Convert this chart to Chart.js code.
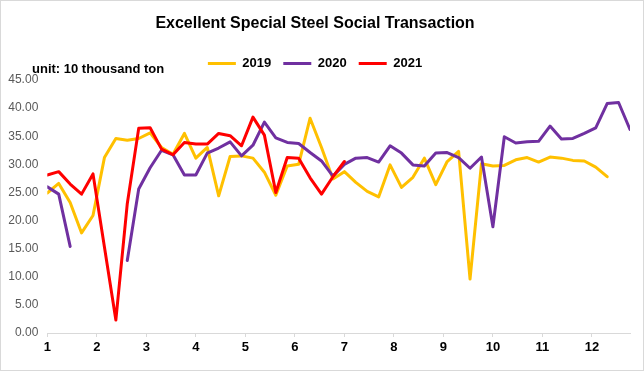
<!DOCTYPE html>
<html>
<head>
<meta charset="utf-8">
<script src="https://cdn.jsdelivr.net/npm/chart.js@4/dist/chart.umd.min.js"></script>
<style>
  html, body { margin: 0; padding: 0; background: #fff; }
  #wrap { position: relative; width: 644px; height: 371px; }
  #frame { position: absolute; left: 0; top: 0; width: 644px; height: 371px; box-sizing: border-box; border: 1px solid #d9d9d9; pointer-events: none; }
</style>
</head>
<body>
<div id="wrap">
  <canvas id="chart" width="644" height="371"></canvas>
  <div id="frame"></div>
</div>
<script>
// weekly points, months on the axis
const weeks = [1, 2, 3, 4, 5, 6, 7, 8, 9, 10, 11, 12, 13, 14, 15, 16, 17, 18, 19, 20,
  21, 22, 23, 24, 25, 26, 27, 28, 29, 30, 31, 32, 33, 34, 35, 36, 37, 38, 39, 40,
  41, 42, 43, 44, 45, 46, 47, 48, 49, 50, 51, 52];
const months = ['1', '2', '3', '4', '5', '6', '7', '8', '9', '10', '11', '12'];
const yTicks = [0, 5, 10, 15, 20, 25, 30, 35, 40, 45];

const y2019 = [24.9, 26.6, 23.2, 17.8, 20.9, 31.2, 34.6, 34.3, 34.6, 35.6,
  33.0, 31.8, 35.5, 31.1, 33.0, 24.4, 31.4, 31.5, 31.1, 28.6,
  24.5, 29.7, 30.0, 38.2, 33.0, 27.4, 28.7, 26.8, 25.2, 24.2,
  29.9, 25.9, 27.7, 31.1, 26.4, 30.5, 32.3, 9.6, 30.1, 29.7,
  29.8, 30.8, 31.2, 30.4, 31.3, 31.1, 30.7, 30.6, 29.5, 27.8];
const y2020 = [26.0, 24.7, 15.4, null, null, null, null, 12.9, 25.6, 29.4,
  32.5, 31.7, 28.1, 28.1, 32.0, 32.9, 34.0, 31.5, 33.4, 37.5,
  34.7, 33.9, 33.7, 32.1, 30.6, 27.9, 30.0, 31.1, 31.2, 30.4,
  33.3, 32.0, 29.9, 29.7, 32.0, 32.1, 31.2, 29.3, 31.3, 18.9,
  34.9, 33.8, 34.0, 34.1, 36.8, 34.5, 34.6, 35.5, 36.5, 40.8,
  41.0, 36.2];
const y2021 = [28.1, 28.7, 26.5, 24.7, 28.3, 15.3, 2.3, 23.0, 36.4, 36.5,
  32.7, 31.7, 33.9, 33.6, 33.6, 35.5, 35.1, 33.3, 38.4, 35.2,
  25.0, 31.2, 31.1, 27.6, 24.7, 27.8, 30.5];

const FONT = "'Liberation Sans', Arial, sans-serif";

const unitLabel = {
  id: 'unitLabel',
  afterDraw(chart) {
    const ctx = chart.ctx;
    ctx.save();
    ctx.font = 'bold 13px ' + FONT;
    ctx.fillStyle = '#000';
    ctx.textBaseline = 'middle';
    ctx.fillText('unit: 10 thousand ton', 32, 69);
    ctx.restore();
  }
};

function line(label, data, color, order) {
  return {
    label, data, order,
    borderColor: color,
    backgroundColor: color,
    borderWidth: 3,
    pointRadius: 0,
    tension: 0,
    borderJoinStyle: 'round',
    borderCapStyle: 'round',
    spanGaps: false
  };
}

new Chart(document.getElementById('chart'), {
  type: 'line',
  data: {
    labels: weeks,
    datasets: [
      line('2019', y2019, '#FFC000', 3),
      line('2020', y2020, '#7030A0', 2),
      line('2021', y2021, '#FF0000', 1)
    ]
  },
  options: {
    responsive: false,
    animation: false,
    layout: { padding: { left: 0, right: 14, top: 0, bottom: 0 } },
    plugins: {
      title: {
        display: true,
        text: 'Excellent Special Steel Social Transaction',
        color: '#000',
        font: { family: FONT, size: 16, weight: 'bold' },
        padding: { top: 14.4, bottom: 11.4 }
      },
      legend: {
        display: true,
        labels: {
          color: '#000',
          font: { family: FONT, size: 13, weight: 'bold' },
          boxWidth: 28,
          boxHeight: 3,
          padding: 12,
          sort: (a, b) => a.datasetIndex - b.datasetIndex,
          generateLabels(chart) {
            const items = Chart.defaults.plugins.legend.labels.generateLabels(chart);
            items.forEach(it => { it.lineWidth = 0; it.strokeStyle = it.fillStyle; });
            return items;
          }
        }
      },
      tooltip: { enabled: false }
    },
    scales: {
      x: {
        type: 'linear',
        min: weeks[0],
        max: weeks[weeks.length - 1],
        afterBuildTicks(scale) {
          scale.ticks = months.map((m, i) => ({ value: weeks[0] + i * weeks.length / months.length }));
        },
        afterFit(scale) { scale.height = 38; },
        grid: { display: true, drawOnChartArea: false, drawTicks: true, tickLength: 4, color: '#d9d9d9' },
        border: { display: true, color: '#d9d9d9', width: 1 },
        ticks: {
          autoSkip: false,
          maxRotation: 0,
          padding: 3,
          color: '#000',
          font: { family: FONT, size: 13, weight: 'bold' },
          callback: (v, i) => months[i]
        }
      },
      y: {
        min: yTicks[0],
        max: yTicks[yTicks.length - 1],
        afterBuildTicks(scale) {
          scale.ticks = yTicks.map(v => ({ value: v }));
        },
        afterFit(scale) { scale.width = 47.3; },
        grid: { display: false, drawTicks: false },
        border: { display: false },
        ticks: {
          padding: 9,
          color: '#595959',
          font: { family: FONT, size: 12 },
          callback: v => v.toFixed(2)
        }
      }
    }
  },
  plugins: [unitLabel]
});
</script>
</body>
</html>
